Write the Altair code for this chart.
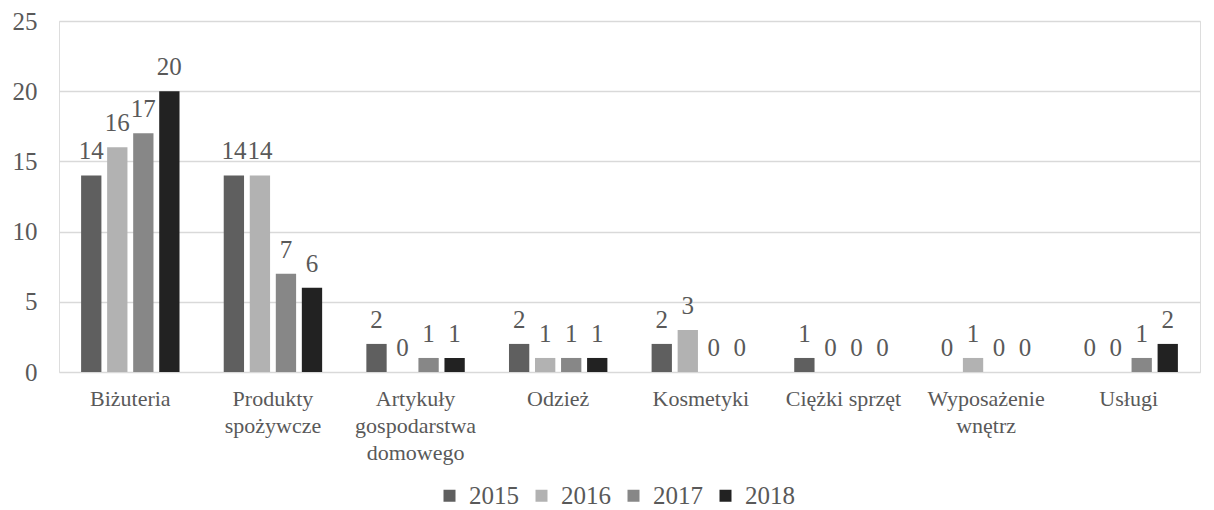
import altair as alt
import pandas as pd

categories = ["Biżuteria", "Produkty spożywcze", "Artykuły gospodarstwa domowego", "Odzież",
              "Kosmetyki", "Ciężki sprzęt", "Wyposażenie wnętrz", "Usługi"]
label_lines = ["Biżuteria", "Produkty|spożywcze", "Artykuły|gospodarstwa|domowego", "Odzież",
               "Kosmetyki", "Ciężki sprzęt", "Wyposażenie|wnętrz", "Usługi"]
years = ["2015", "2016", "2017", "2018"]
v2015 = [14, 14, 2, 2, 2, 1, 0, 0]
v2016 = [16, 14, 0, 1, 3, 0, 1, 0]
v2017 = [17, 7, 1, 1, 0, 0, 0, 1]
v2018 = [20, 6, 1, 1, 0, 0, 0, 2]
colors = ["#5f5f5f", "#b2b2b2", "#878787", "#222222"]

rows = []
for i, c in enumerate(categories):
    for y, vals in zip(years, [v2015, v2016, v2017, v2018]):
        rows.append({"cat": label_lines[i], "year": y, "value": vals[i]})
df = pd.DataFrame(rows)

FONT = "Liberation Serif"
TXT = "#595959"

x = alt.X("cat:N", sort=label_lines, title=None,
          scale=alt.Scale(paddingInner=0.31, paddingOuter=0.155),
          axis=alt.Axis(labelExpr="split(datum.label, '|')", labelAngle=0, labelFontSize=22,
                        labelColor=TXT, labelFont=FONT, domain=False, ticks=False,
                        labelPadding=16, labelLineHeight=27, labelLimit=300))
xo = alt.XOffset("year:N", scale=alt.Scale(paddingInner=0.22))

base = alt.Chart(df).encode(x=x, xOffset=xo)

bars = base.mark_bar().encode(
    y=alt.Y("value:Q", title=None, scale=alt.Scale(domain=[0, 25], nice=False),
            axis=alt.Axis(values=[0, 5, 10, 15, 20, 25], labelFontSize=25, labelColor=TXT,
                          labelFont=FONT, domain=False, ticks=False, labelPadding=22,
                          gridColor="#d9d9d9", gridWidth=1.5)),
    color=alt.Color("year:N", scale=alt.Scale(domain=years, range=colors), title=None,
                    legend=alt.Legend(orient="none", direction="horizontal", legendX=378,
                                      legendY=462, symbolType="square", symbolSize=144,
                                      symbolStrokeWidth=0, labelFontSize=25, labelColor=TXT,
                                      labelFont=FONT, columnPadding=10, labelOffset=7)),
)

labels = base.mark_text(dy=-16, fontSize=25, font=FONT, color=TXT, baseline="alphabetic").encode(
    y=alt.Y("value:Q"), text=alt.Text("value:Q"))

chart = (bars + labels).properties(
    width=1141, height=351,
    autosize=alt.AutoSizeParams(type="none"),
    padding={"left": 51, "top": 13, "right": 6, "bottom": 136},
).configure_view(stroke=None).configure(background="white", font=FONT)

chart.save("out.html", embed_options={"renderer": "svg", "actions": False})
